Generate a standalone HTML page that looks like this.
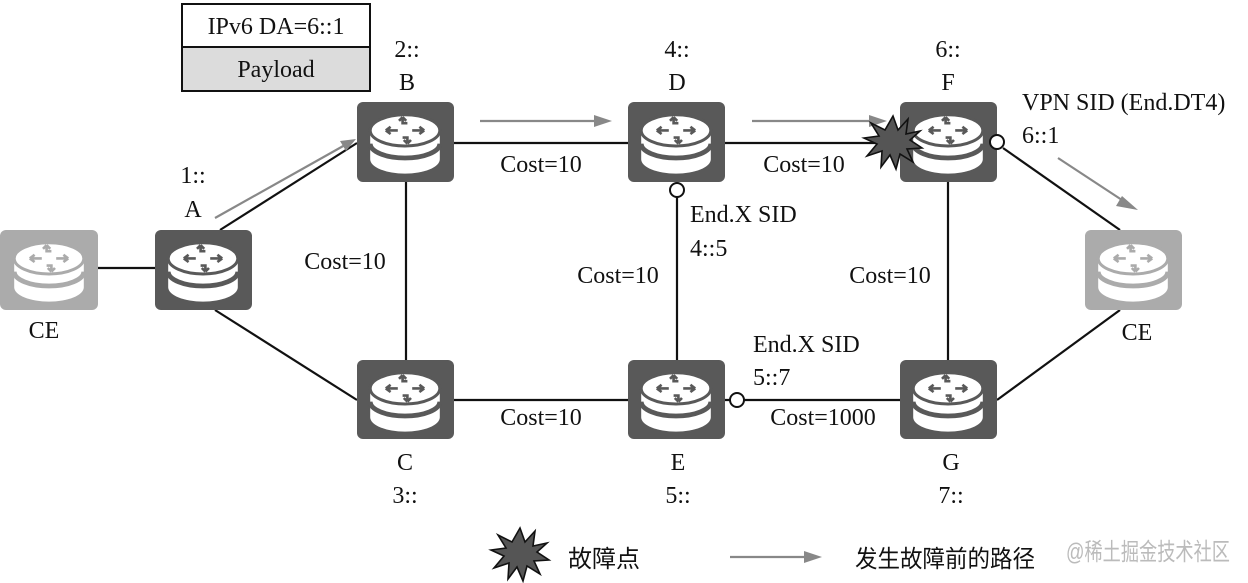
<!DOCTYPE html>
<html><head><meta charset="utf-8"><style>
html,body{margin:0;padding:0;background:#fff;width:1248px;height:583px;overflow:hidden}
svg text{font-family:"Liberation Serif","Noto Serif CJK SC",serif;font-size:24px;fill:#111}
</style></head><body>
<svg width="1248" height="583" viewBox="0 0 1248 583" xmlns="http://www.w3.org/2000/svg">
<defs>
<g id="ic">
 <path d="M-29,-6 L-29,16 A29,12 0 0 0 29,16 L29,-6 Z" fill="#fff"/>
 <path d="M-29,3 A29,12 0 0 0 29,3" fill="none" stroke="currentColor" stroke-width="4"/>
 <ellipse cx="0" cy="-8" rx="29" ry="13" fill="#fff" stroke="currentColor" stroke-width="2.5"/>
 <path d="M-16,-8 h10 M-16,-8 l4,-3 M-16,-8 l4,3 M16,-8 h-10 M16,-8 l-4,-3 M16,-8 l-4,3 M-2,-19 v5 h4 M-2,-19 l-3,3 M-2,-19 l3,3 M2,3 v-5 h-4 M2,3 l-3,-3 M2,3 l3,-3" stroke="currentColor" stroke-width="2.2" fill="none"/>
</g>
<g id="star"><polygon points="0,-27 5,-13 15,-24 13,-9 27,-12 17,-3 29,5 14,6 20,19 7,11 3,26 -3,12 -12,24 -11,8 -26,13 -16,1 -29,-5 -14,-7 -22,-20 -8,-13" fill="#555" stroke="#111" stroke-width="1.6"/></g>
</defs>
<g stroke="#111" stroke-width="2.2" fill="none">
<line x1="98" y1="268" x2="155" y2="268"/>
<line x1="220" y1="230" x2="357" y2="143"/>
<line x1="215" y1="310" x2="357" y2="400"/>
<line x1="454" y1="143" x2="628" y2="143"/>
<line x1="725" y1="143" x2="900" y2="143"/>
<line x1="406" y1="182" x2="406" y2="360"/>
<line x1="677" y1="197" x2="677" y2="360"/>
<line x1="948" y1="182" x2="948" y2="360"/>
<line x1="454" y1="400" x2="628" y2="400"/>
<line x1="725" y1="400" x2="900" y2="400"/>
<line x1="1003" y1="148" x2="1120" y2="230"/>
<line x1="997" y1="400" x2="1120" y2="310"/>
</g>
<g stroke="#888" stroke-width="2.2" fill="#888">
<line x1="215" y1="218" x2="345" y2="145"/><polygon points="356,139 340,141 346,151" stroke="none"/>
<line x1="480" y1="121" x2="595" y2="121"/><polygon points="612,121 594,115 594,127" stroke="none"/>
<line x1="752" y1="121" x2="870" y2="121"/><polygon points="887,121 869,115 869,127" stroke="none"/>
<line x1="1058" y1="158" x2="1125" y2="202"/><polygon points="1138,210 1122,196 1116,206" stroke="none"/>
<line x1="730" y1="557" x2="805" y2="557"/><polygon points="822,557 804,551 804,563" stroke="none"/>
</g>
<g>
<rect x="0" y="230" width="98" height="80" rx="6" fill="#ababab"/>
<rect x="1085" y="230" width="97" height="80" rx="6" fill="#ababab"/>
<rect x="155" y="230" width="97" height="80" rx="6" fill="#595959"/>
<rect x="357" y="102" width="97" height="80" rx="6" fill="#595959"/>
<rect x="628" y="102" width="97" height="80" rx="6" fill="#595959"/>
<rect x="900" y="102" width="97" height="80" rx="6" fill="#595959"/>
<rect x="357" y="360" width="97" height="79" rx="6" fill="#595959"/>
<rect x="628" y="360" width="97" height="79" rx="6" fill="#595959"/>
<rect x="900" y="360" width="97" height="79" rx="6" fill="#595959"/>
</g>
<g color="#ababab">
<g transform="translate(49,268) scale(1.2)"><use href="#ic"/></g>
<g transform="translate(1133,268) scale(1.2)"><use href="#ic"/></g>
</g>
<g color="#595959">
<g transform="translate(203,268) scale(1.2)"><use href="#ic"/></g>
<g transform="translate(405,140) scale(1.2)"><use href="#ic"/></g>
<g transform="translate(676,140) scale(1.2)"><use href="#ic"/></g>
<g transform="translate(948,140) scale(1.2)"><use href="#ic"/></g>
<g transform="translate(405,398) scale(1.2)"><use href="#ic"/></g>
<g transform="translate(676,398) scale(1.2)"><use href="#ic"/></g>
<g transform="translate(948,398) scale(1.2)"><use href="#ic"/></g>
</g>
<g transform="translate(893,143)"><use href="#star"/></g>
<g transform="translate(520,555)"><use href="#star"/></g>
<g fill="#fff" stroke="#111" stroke-width="2">
<circle cx="677" cy="190" r="7"/><circle cx="997" cy="142" r="7"/><circle cx="737" cy="400" r="7"/>
</g>
<rect x="182" y="4" width="188" height="43" fill="#fff" stroke="#111" stroke-width="2"/>
<rect x="182" y="47" width="188" height="44" fill="#dcdcdc" stroke="#111" stroke-width="2"/>
<text x="276" y="34" text-anchor="middle" font-size="25">IPv6 DA=6::1</text>
<text x="276" y="77" text-anchor="middle" font-size="25">Payload</text>
<g text-anchor="middle">
<text x="407" y="57">2::</text><text x="407" y="90">B</text>
<text x="677" y="57">4::</text><text x="677" y="90">D</text>
<text x="948" y="57">6::</text><text x="948" y="90">F</text>
<text x="193" y="183">1::</text><text x="193" y="217">A</text>
<text x="44" y="338">CE</text><text x="1137" y="340">CE</text>
<text x="405" y="470">C</text><text x="405" y="503">3::</text>
<text x="678" y="470">E</text><text x="678" y="503">5::</text>
<text x="951" y="470">G</text><text x="951" y="503">7::</text>
<text x="541" y="172">Cost=10</text>
<text x="804" y="172">Cost=10</text>
<text x="345" y="269">Cost=10</text>
<text x="618" y="283">Cost=10</text>
<text x="890" y="283">Cost=10</text>
<text x="541" y="425">Cost=10</text>
<text x="823" y="425">Cost=1000</text>
</g>
<text x="1022" y="110">VPN SID (End.DT4)</text>
<text x="1022" y="143">6::1</text>
<text x="690" y="222">End.X SID</text>
<text x="690" y="256">4::5</text>
<text x="753" y="352">End.X SID</text>
<text x="753" y="385">5::7</text>
<text x="568" y="567" font-size="26" style="font-family:'Noto Sans CJK SC',sans-serif">故障点</text>
<text x="855" y="567" font-size="23" textLength="180" lengthAdjust="spacingAndGlyphs" style="font-family:'Noto Sans CJK SC',sans-serif">发生故障前的路径</text>
<text x="1066" y="560" font-size="17" textLength="164" lengthAdjust="spacingAndGlyphs" style="font-family:'Liberation Sans','Noto Sans CJK SC',sans-serif;fill:#bbb">@稀土掘金技术社区</text>
</svg>
</body></html>
